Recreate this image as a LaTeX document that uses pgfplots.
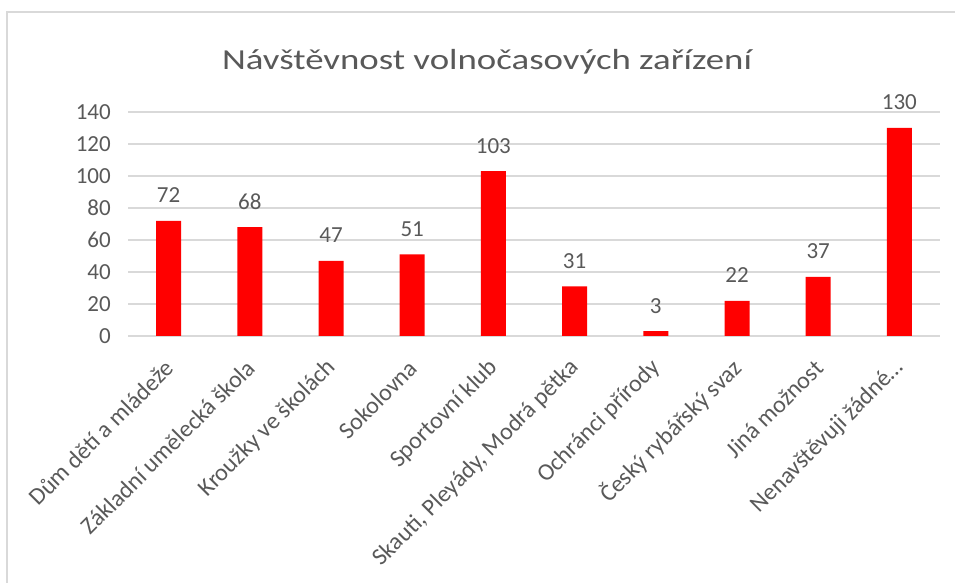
\documentclass[border=0pt]{standalone}
\usepackage{pgfplots}
\pgfplotsset{compat=1.18}
\usepackage{fontspec}
\setmainfont{Carlito}
\newfontfamily\titlefont{Carlito}[FakeStretch=1.27]
\definecolor{txt}{HTML}{595959}
\definecolor{grd}{HTML}{D9D9D9}
\begin{document}
\begin{tikzpicture}[x=1pt,y=1pt]
\coordinate (O) at (128,247);
\draw[grd, line width=2pt] (7,-20) -- (7,571) -- (975,571);
\node[anchor=base, text=txt, font=\titlefont\fontsize{29}{34}\selectfont, inner sep=0pt] at (487,513) {Návštěvnost volnočasových zařízení};
\begin{axis}[
  at={(O)}, anchor=south west,
  scale only axis, width=812pt, height=224pt,
  xmin=-0.5, xmax=9.5, ymin=0, ymax=140,
  ytick={0,20,...,140},
  xtick={0,...,9},
  xticklabels={Dům dětí a mládeže, Základní umělecká škola, Kroužky ve školách, Sokolovna, Sportovní klub, {Skauti, Pleyády, Modrá pětka}, Ochránci přírody, Český rybářský svaz, Jiná možnost, Nenavštěvuji žádné…},
  ymajorgrids, grid style={grd, line width=1.3pt},
  axis line style={draw=none},
  major tick length=0pt,
  ybar, bar width=25pt,
  tick label style={text=txt, font=\fontsize{23}{27}\selectfont},
  /pgf/number format/assume math mode=true,
  yticklabel style={anchor=east, inner sep=0pt, xshift=-17pt},
  xticklabel style={xshift=1pt, yshift=-28pt, rotate=45, anchor=east, inner sep=0pt, font=\fontsize{24}{28}\selectfont},
  nodes near coords,
  every node near coord/.append style={text=txt, font=\fontsize{23}{27}\selectfont, anchor=base, inner sep=0pt, yshift=18pt},
  clip=false,
]
\addplot[fill=red, draw=none] coordinates {(0,72) (1,68) (2,47) (3,51) (4,103) (5,31) (6,3) (7,22) (8,37) (9,130)};
\end{axis}
\pgfresetboundingbox
\useasboundingbox (0,0) rectangle (955,583);
\end{tikzpicture}
\end{document}
